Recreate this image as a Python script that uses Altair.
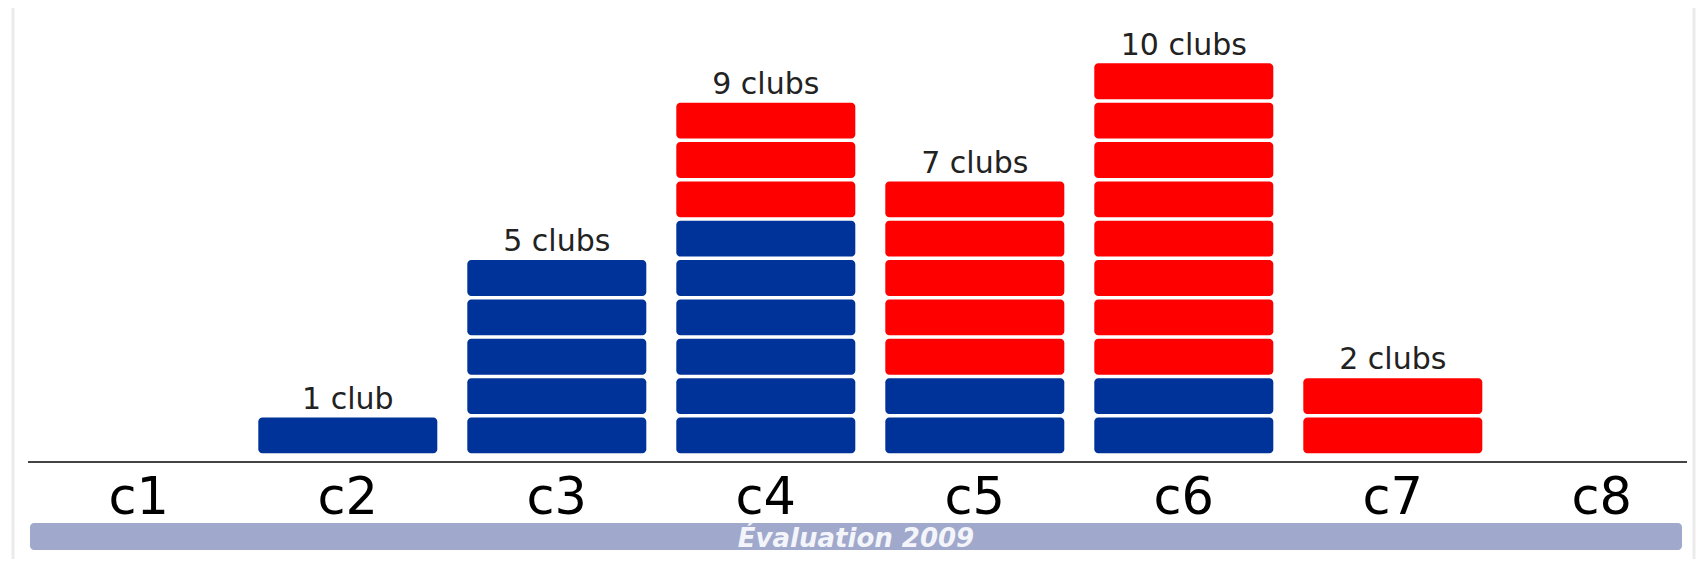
import altair as alt
import pandas as pd

# ---- data ----
categories = ["c1", "c2", "c3", "c4", "c5", "c6", "c7", "c8"]
blue_counts = [0, 1, 5, 6, 2, 2, 0, 0]
red_counts = [0, 0, 0, 3, 5, 8, 2, 0]
band_title = "Évaluation 2009"

# ---- tables built from the arrays ----
rows = []
for cat, b, r in zip(categories, blue_counts, red_counts):
    for i in range(b + r):
        rows.append({"cat": cat, "idx": i, "team": "bleu" if i < b else "rouge"})
blocks = pd.DataFrame(rows)

lab_rows = []
for cat, b, r in zip(categories, blue_counts, red_counts):
    n = b + r
    if n > 0:
        lab_rows.append({"cat": cat, "total": n,
                         "label": f"{n} club" + ("s" if n > 1 else "")})
labels = pd.DataFrame(lab_rows)
cats = pd.DataFrame({"cat": categories})

W, H = 1659, 454
GAP = 0.045

xscale = alt.Scale(domain=categories, range=[6.3, 1678.3],
                   paddingInner=0.1435, paddingOuter=0.07175)
yscale = alt.Scale(domain=[0, 10], range=[447.1, 53.6], nice=False, zero=False)

bars = alt.Chart(blocks).transform_calculate(
    lo="datum.idx + %f" % GAP, hi="datum.idx + 1 - %f" % GAP
).mark_bar(cornerRadius=4).encode(
    x=alt.X("cat:N", scale=xscale, axis=None),
    y=alt.Y("lo:Q", scale=yscale, axis=None),
    y2="hi:Q",
    color=alt.Color("team:N", scale=alt.Scale(domain=["bleu", "rouge"],
                                              range=["#003399", "#ff0000"]),
                    legend=None),
)

tops = alt.Chart(labels).mark_text(
    font="DejaVu Sans", fontSize=30, color="#222222", baseline="alphabetic", dy=-7
).encode(
    x=alt.X("cat:N", scale=xscale, axis=None),
    y=alt.Y("total:Q", scale=yscale, axis=None),
    text="label:N",
)

axis_line = alt.Chart(cats).mark_rule(color="#444444", strokeWidth=2).encode(
    x=alt.value(0), x2=alt.value(W), y=alt.value(H)
)

cat_labels = alt.Chart(cats).mark_text(
    font="DejaVu Sans", fontSize=51, color="#000000", baseline="alphabetic"
).encode(
    x=alt.X("cat:N", scale=xscale, axis=None),
    y=alt.value(506),
    text="cat:N",
)

band = alt.Chart(cats).transform_filter("datum.cat == 'c1'").mark_rect(
    color="#a0a9cb", cornerRadius=4
).encode(
    x=alt.value(2), x2=alt.value(1654), y=alt.value(515), y2=alt.value(542)
)

band_text = alt.Chart(pd.DataFrame({"t": [band_title]})).mark_text(
    font="DejaVu Sans", fontSize=26, fontWeight="bold", fontStyle="italic",
    color="#f4f5fa", baseline="alphabetic", align="center"
).encode(
    x=alt.value(828), y=alt.value(539), text="t:N"
)

frame_l = alt.Chart(cats).transform_filter("datum.cat == 'c1'").mark_rule(
    color="#ebebeb", strokeWidth=3
).encode(x=alt.value(-15), y=alt.value(0), y2=alt.value(551))

frame_r = alt.Chart(cats).transform_filter("datum.cat == 'c1'").mark_rule(
    color="#ebebeb", strokeWidth=3
).encode(x=alt.value(1666), y=alt.value(0), y2=alt.value(551))

chart = alt.layer(
    frame_l, frame_r, band, band_text, axis_line, bars, tops, cat_labels
).properties(
    width=W, height=H,
    padding={"left": 20, "top": 0, "right": 9, "bottom": 105},
    autosize=alt.AutoSizeParams(type="none"),
    background="#ffffff",
).configure_view(stroke=None)

chart.save("out.html", embed_options={"renderer": "svg", "actions": False})
